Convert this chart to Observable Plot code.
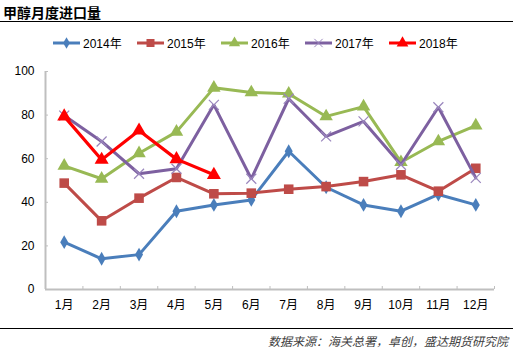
<!DOCTYPE html>
<html>
<head>
<meta charset="utf-8">
<script src="https://cdn.jsdelivr.net/npm/d3@7"></script>
<script src="https://cdn.jsdelivr.net/npm/@observablehq/plot@0.6"></script>
<style>
  html, body { margin: 0; padding: 0; background: #fff; }
  #wrap { position: relative; width: 513px; height: 353px; overflow: hidden; font-family: "Liberation Sans", "Noto Sans CJK SC", sans-serif; }
  #title { position: absolute; left: 3px; top: 2px; font-size: 14px; font-weight: bold; color: #000; font-family: "Noto Sans CJK SC", sans-serif; }
  .hline { position: absolute; left: 0; width: 513px; height: 0; border-top: 1.5px solid #000; }
  #legend { position: absolute; left: 0; top: 34px; width: 513px; height: 18px; }
  #chart { position: absolute; left: 0; top: 55px; }
  #caption { position: absolute; right: 5px; top: 332px; font-size: 12px; font-style: italic; color: #404040; font-family: "Noto Sans CJK SC", sans-serif; white-space: nowrap; }
</style>
</head>
<body>
<div id="wrap">
  <div id="title"></div>
  <div class="hline" style="top:21px"></div>
  <svg id="legend" width="513" height="18"></svg>
  <div id="chart"></div>
  <div class="hline" style="top:328px"></div>
  <div id="caption"></div>
</div>
<script>
const titleText = "甲醇月度进口量";
const captionText = "数据来源：海关总署，卓创，盛达期货研究院";
const months = ["1月","2月","3月","4月","5月","6月","7月","8月","9月","10月","11月","12月"];
const seriesNames = ["2014年","2015年","2016年","2017年","2018年"];
const v2014 = [21.7, 14.1, 16.0, 35.9, 38.8, 41.1, 63.4, 46.9, 38.8, 35.9, 43.6, 38.8];
const v2015 = [48.8, 31.5, 41.9, 51.4, 43.9, 44.2, 46.0, 47.2, 49.5, 52.6, 45.1, 55.6];
const v2016 = [56.7, 50.8, 62.5, 72.3, 92.5, 90.4, 89.8, 79.4, 83.9, 58.4, 67.9, 75.2];
const v2017 = [79.8, 67.9, 53.1, 55.4, 84.7, 50.8, 87.5, 70.2, 77.1, 57.2, 83.6, 51.2];
const v2018 = [79.4, 59.5, 72.9, 59.8, 52.6];
const yTicks = [0, 20, 40, 60, 80, 100];

const colors = ["#4A7EBB", "#BE4B48", "#98B954", "#7D60A0", "#FF0000"];
const symbols = ["diamond", "square", "triangle", "times", "triangle"];
const radii = [4.2, 5.4, 5.0, 4.6, 5.2];
const allValues = [v2014, v2015, v2016, v2017, v2018];

document.getElementById("title").textContent = titleText;
document.getElementById("caption").textContent = captionText;

const data = [];
allValues.forEach((arr, si) => arr.forEach((v, i) => data.push({series: seriesNames[si], m: i + 1, v})));

const monthIdx = months.map((_, i) => i + 1);
const bounds = d3.range(0, months.length + 1).map(i => i + 0.5);

const marks = [
  Plot.ruleX([0.5], {stroke: "#BFBFBF", strokeWidth: 2}),
  Plot.ruleY([0], {stroke: "#BFBFBF", strokeWidth: 2}),
  Plot.axisY(yTicks, {tickSize: -3, stroke: "#BFBFBF", tickPadding: 14, fontSize: 12, fill: "#000", label: null}),
  Plot.axisX(bounds.slice(1), {tickSize: -3, stroke: "#BFBFBF", tickFormat: () => "", label: null}),
  Plot.axisX(monthIdx, {tickSize: 0, tickPadding: 11, tickFormat: d => months[d - 1], fontSize: 12, fill: "#000", label: null})
];
seriesNames.forEach((s, si) => {
  const sd = data.filter(d => d.series === s);
  marks.push(Plot.line(sd, {x: "m", y: "v", stroke: colors[si], strokeWidth: si === 4 ? 3.2 : 3, strokeLinejoin: "miter"}));
  const isStroke = symbols[si] === "times";
  marks.push(Plot.dot(sd, {x: "m", y: "v", symbol: () => symbols[si], r: radii[si],
    fill: isStroke ? "none" : colors[si], stroke: isStroke ? "#9A86BD" : "none", strokeWidth: 1.2}));
});

const chart = Plot.plot({
  width: 513,
  height: 265,
  marginLeft: 45,
  marginRight: 19,
  marginTop: 16,
  marginBottom: 31,
  style: {fontFamily: "'Liberation Sans', 'Noto Sans CJK SC', sans-serif", fontSize: "12px", color: "#000", background: "#fff"},
  x: {type: "linear", domain: [0.5, 12.5], axis: null},
  y: {domain: [0, 100], axis: null},
  symbol: {type: "identity"},
  marks
});
document.getElementById("chart").appendChild(chart);

// legend
const leg = d3.select("#legend");
const startX = 53, step = 84;
seriesNames.forEach((s, si) => {
  const g = leg.append("g").attr("transform", `translate(${startX + si * step},9)`);
  g.append("line").attr("x1", 0).attr("x2", 27).attr("stroke", colors[si]).attr("stroke-width", 3);
  const symMap = {diamond: d3.symbolDiamond, square: d3.symbolSquare, triangle: d3.symbolTriangle, times: d3.symbolTimes};
  const isStroke = symbols[si] === "times";
  const size = Math.PI * radii[si] * radii[si] * 0.7;
  g.append("path").attr("transform", "translate(13.5,0)")
    .attr("d", d3.symbol(symMap[symbols[si]], size)())
    .attr("fill", isStroke ? "none" : colors[si])
    .attr("stroke", isStroke ? "#9A86BD" : "none");
  g.append("text").attr("x", 30).attr("y", 5).attr("font-size", 12)
    .attr("font-family", "'Liberation Sans', 'Noto Sans CJK SC', sans-serif").text(s);
});
</script>
</body>
</html>
